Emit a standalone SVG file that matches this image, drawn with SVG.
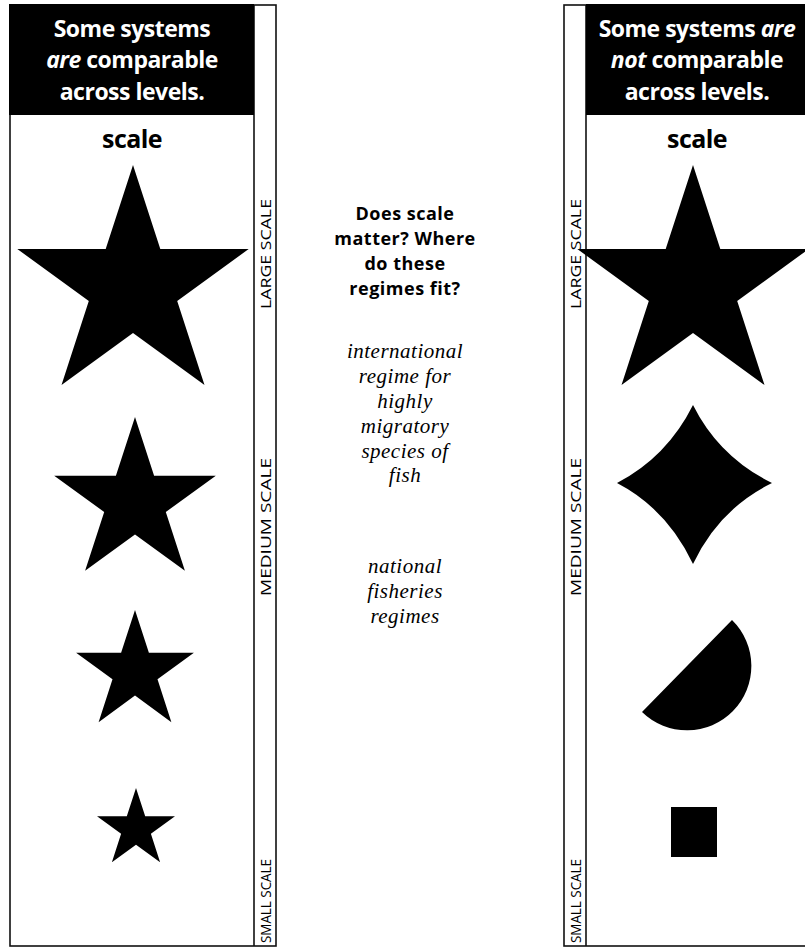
<svg xmlns="http://www.w3.org/2000/svg" width="805" height="949" viewBox="0 0 805 949">
<style>
.frame{fill:none;stroke:#111;stroke-width:1.6}
.hdr{fill:#000}
.ht{font-family:"Open Sans","Liberation Sans",sans-serif;font-weight:700;font-size:23px;fill:#fff;text-anchor:middle;letter-spacing:-0.5px}
.scale{font-family:"Open Sans","Liberation Sans",sans-serif;font-weight:700;font-size:25px;fill:#000;text-anchor:middle;letter-spacing:-0.6px}
.q{font-family:"Open Sans","Liberation Sans",sans-serif;font-weight:700;font-size:18px;fill:#000;text-anchor:middle;letter-spacing:0.5px}
.it{font-family:"Liberation Serif",serif;font-style:italic;font-size:21px;fill:#000;text-anchor:middle;letter-spacing:0.5px}
.lbl{font-family:"Open Sans","Liberation Sans",sans-serif;font-weight:400;font-size:14px;fill:#000;text-anchor:middle}
.shape{fill:#000}
</style>
<rect width="805" height="949" fill="#fff"/>

<g id="left-panel">
  <rect class="frame" x="10" y="5" width="266" height="941"/>
  <line class="frame" x1="254" y1="5" x2="254" y2="946"/>
  <rect class="hdr" x="9" y="4" width="245" height="111"/>
  <text class="ht" x="132" y="37">Some systems</text>
  <text class="ht" x="132" y="68"><tspan font-style="italic">are</tspan> comparable</text>
  <text class="ht" x="132" y="100">across levels.</text>
  <text class="scale" x="132" y="148">scale</text>
</g>

<g id="left-strip">
  <text class="lbl" transform="translate(271,254) rotate(-90)" textLength="110" lengthAdjust="spacingAndGlyphs">LARGE SCALE</text>
  <text class="lbl" transform="translate(271,527) rotate(-90)" textLength="138" lengthAdjust="spacingAndGlyphs">MEDIUM SCALE</text>
  <text class="lbl" transform="translate(271,901) rotate(-90)" textLength="84" lengthAdjust="spacingAndGlyphs">SMALL SCALE</text>
</g>

<g id="left-star-large">
  <polygon class="shape" points="133,165 160.3,249 248.7,249 177.2,301 204.5,385 133,333 61.5,385 88.8,301 17.3,249 105.7,249"/>
</g>
<g id="left-star-medium">
  <polygon class="shape" points="135,417 154.1,475.7 215.8,475.7 165.8,512 184.9,570.7 135,534.5 85.1,570.7 104.2,512 54.2,475.7 115.9,475.7"/>
</g>
<g id="left-star-small">
  <polygon class="shape" points="135,610 148.9,652.8 193.9,652.8 157.5,679.3 171.4,722.2 135,695.6 98.6,722.2 112.5,679.3 76.1,652.8 121.1,652.8"/>
</g>
<g id="left-star-smallest">
  <polygon class="shape" points="136,788 145.2,816.3 175,816.3 150.9,833.8 160.1,862.2 136,844.7 111.9,862.2 121.1,833.8 97,816.3 126.8,816.3"/>
</g>

<g id="middle">
  <text class="q" x="405" y="220">Does scale</text>
  <text class="q" x="405" y="245">matter? Where</text>
  <text class="q" x="405" y="270">do these</text>
  <text class="q" x="405" y="295">regimes fit?</text>
  <text class="it" x="405" y="358">international</text>
  <text class="it" x="405" y="383">regime for</text>
  <text class="it" x="405" y="408">highly</text>
  <text class="it" x="405" y="433">migratory</text>
  <text class="it" x="405" y="458">species of</text>
  <text class="it" x="405" y="482">fish</text>
  <text class="it" x="405" y="573">national</text>
  <text class="it" x="405" y="598">fisheries</text>
  <text class="it" x="405" y="623">regimes</text>
</g>

<g id="right-panel">
  <rect class="frame" x="564" y="5" width="250" height="941"/>
  <line class="frame" x1="586" y1="5" x2="586" y2="946"/>
  <rect class="hdr" x="586" y="4" width="220" height="111"/>
  <text class="ht" x="697" y="37">Some systems <tspan font-style="italic">are</tspan></text>
  <text class="ht" x="697" y="68"><tspan font-style="italic">not</tspan> comparable</text>
  <text class="ht" x="697" y="100">across levels.</text>
  <text class="scale" x="697" y="148">scale</text>
</g>

<g id="right-strip">
  <text class="lbl" transform="translate(581,254) rotate(-90)" textLength="110" lengthAdjust="spacingAndGlyphs">LARGE SCALE</text>
  <text class="lbl" transform="translate(581,527) rotate(-90)" textLength="138" lengthAdjust="spacingAndGlyphs">MEDIUM SCALE</text>
  <text class="lbl" transform="translate(581,901) rotate(-90)" textLength="84" lengthAdjust="spacingAndGlyphs">SMALL SCALE</text>
</g>

<g id="right-star-large">
  <polygon class="shape" points="693,165 720.3,249 808.7,249 737.2,301 764.5,385 693,333 621.5,385 648.8,301 577.3,249 665.7,249"/>
</g>
<g id="right-sparkle">
  <path class="shape" d="M693,405 Q719,457 772,483 Q719,509 693,564 Q667,509 617,483 Q667,457 693,405 Z"/>
</g>
<g id="right-half-disc">
  <path class="shape" d="M642,712 L732,620 A64,64 0 0 1 642,712 Z"/>
</g>
<g id="right-square">
  <rect class="shape" x="671" y="807" width="46" height="50"/>
</g>
</svg>
